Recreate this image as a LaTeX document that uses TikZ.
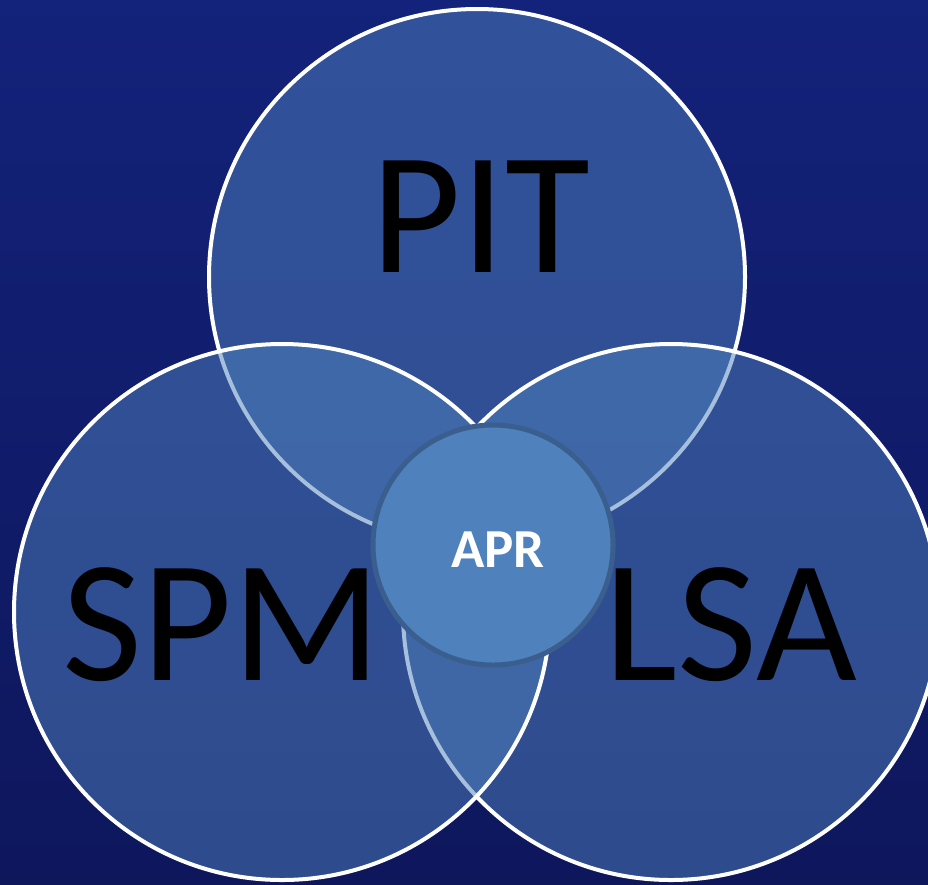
\documentclass[tikz,border=0pt]{standalone}
\usepackage{fontspec}
\setmainfont{Carlito}
\begin{document}
\begin{tikzpicture}[x=1pt,y=-1pt,
  bigcirc/.style={circle, minimum size=536pt, inner sep=0pt, outer sep=0pt,
    draw=white, line width=4pt, fill={rgb,255:red,79;green,129;blue,189}, fill opacity=0.5},
  midcirc/.style={circle, minimum size=240pt, inner sep=0pt, outer sep=0pt,
    draw={rgb,255:red,58;green,95;blue,143}, line width=5pt, fill={rgb,255:red,79;green,129;blue,189}},
  biglabel/.style={anchor=base, font=\fontsize{174}{174}\selectfont, text=black, inner sep=0pt},
  midlabel/.style={anchor=base, font=\bfseries\fontsize{55}{55}\selectfont, text=white, inner sep=0pt}]
\useasboundingbox (0,0) rectangle (928,884);
\clip (0,0) rectangle (928,884);
\fill[top color={rgb,255:red,19;green,34;blue,122}, bottom color={rgb,255:red,14;green,23;blue,92}] (0,0) rectangle (928,884);
\node[bigcirc] (pit) at (477,277) {};
\node[bigcirc] (lsa) at (671,612) {};
\node[bigcirc] (spm) at (282,612) {};
\node[midcirc] (apr) at (493,545) {};
\node[biglabel] (pitlabel) at (481,272) {PIT};
\node[biglabel] (spmlabel) at (222,680) {SPM};
\node[biglabel] (lsalabel) at (731,680) {LSA};
\node[midlabel] (aprlabel) at (498,567) {APR};
\end{tikzpicture}
\end{document}
